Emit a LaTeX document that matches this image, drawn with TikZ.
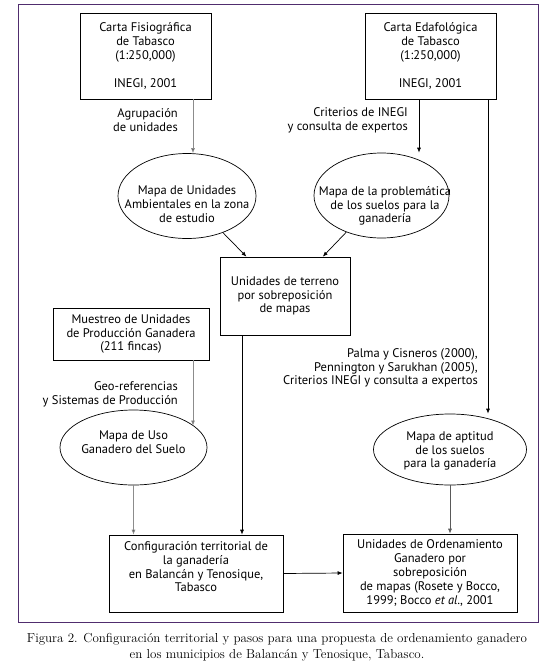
\documentclass[tikz,border=0pt]{standalone}
\usepackage{fontspec}
\newfontfamily\diagfont{PT Sans}
\usetikzlibrary{shapes.geometric,arrows.meta}

\definecolor{framepurple}{RGB}{80,45,110}

\tikzset{
  box/.style={draw, line width=0.7pt, align=center, inner sep=2pt},
  oval/.style={draw, ellipse, line width=0.7pt, inner sep=0pt},
  ovaltext/.style={align=center, inner sep=0pt},
  note/.style={align=right, anchor=east, inner sep=0pt},
  link/.style={line width=0.7pt, -{Latex[length=5pt,width=4pt]}},
  greylink/.style={link, draw=black!45, -{Latex[length=5pt,width=4pt,fill=black!70]}},
  darklink/.style={link, draw=black!65},
}

\begin{document}
\begin{tikzpicture}[x=1pt,y=-1pt,font=\diagfont\fontsize{12.5}{13.8}\selectfont]

    \useasboundingbox (0,0) rectangle (554,667);

    \draw[framepurple, line width=1pt] (18,4) rectangle (538,622);

    % sources
    \node[box, minimum width=131pt, minimum height=86pt] (fisio) at (145.5,56)
    {Carta Fisiográfica\\de Tabasco\\(1:250,000)\\[14pt]INEGI, 2001};

    \node[box, minimum width=131pt, minimum height=86pt] (edafo) at (430.5,56)
    {Carta Edafológica\\de Tabasco\\(1:250,000)\\[14pt]INEGI, 2001};

    \node[note] (agrup) at (178,120) {Agrupación\\de unidades};

    \node[note] (crit) at (408,120) {Criterios de INEGI\\y consulta de expertos};

    % maps
    \node[oval, minimum width=138pt, minimum height=85pt] (mua) at (187,196) {};
    \node[ovaltext] (mua-text) at (187,204)
    {Mapa de Unidades\\Ambientales en la zona\\de estudio};

    \node[oval, minimum width=135pt, minimum height=85pt] (mps) at (381.5,195.5) {};
    \node[ovaltext] (mps-text) at (385,206)
    {Mapa de la problemática\\de los suelos para la\\ganadería};

    \node[box, minimum width=130pt, minimum height=78pt] (uter) at (285,296)
    {Unidades de terreno\\por sobreposición\\de mapas};

    \node[box, minimum width=156pt, minimum height=52pt] (mupg) at (131,334)
    {Muestreo de Unidades\\de Producción Ganadera\\(211 fincas)};

    \node[note] (georef) at (178,394) {Geo-referencias\\y Sistemas de Producción};

    \node[note] (palma) at (478,368)
    {Palma y Cisneros (2000),\\Pennington y Sarukhan (2005),\\Criterios INEGI y consulta a expertos};

    \node[oval, minimum width=147pt, minimum height=75pt] (mus) at (133.5,447.5) {};
    \node[ovaltext] (mus-text) at (133.5,442)
    {Mapa de Uso\\Ganadero del Suelo};

    \node[oval, minimum width=153pt, minimum height=71pt] (mas) at (450,449.5) {};
    \node[ovaltext] (mas-text) at (450,451)
    {Mapa de aptitud\\de los suelos\\para la ganadería};

    % results
    \node[box, minimum width=174pt, minimum height=77pt] (conf) at (196,573.5)
    {Configuración territorial de\\la ganadería\\en Balancán y Tenosique,\\Tabasco\\\mbox{}};

    \node[box, minimum width=174pt, minimum height=78pt] (uog) at (430,573)
    {Unidades de Ordenamiento\\Ganadero por\\sobreposición\\de mapas (Rosete y Bocco,\\1999; Bocco \textit{et al.}, 2001};

    % connectors
    \draw[greylink] ([xshift=47.5pt]fisio.south) coordinate (fisio-out) -- (fisio-out |- mua.north);

    \draw[link] ([xshift=-11.5pt]edafo.south) coordinate (edafo-out) -- (edafo-out |- mps.north);

    \draw[link] ([xshift=57.5pt]edafo.south) coordinate (edafo-long) -- (edafo-long |- mas.north);

    \draw[link] (mua) -- (uter);

    \draw[link] (mps) -- (uter);

    \draw[greylink] ([xshift=62pt]mupg.south) coordinate (mupg-out) -- (mupg-out |- mus.20);

    \draw[greylink] (mus.south) -- (mus.south |- conf.north);

    \draw[link] ([xshift=-43pt]uter.south) coordinate (uter-out) -- (uter-out |- conf.north);

    \draw[darklink] (mas.south) -- (mas.south |- uog.north);

    \draw[link] (conf.east) -- (uog.west);

    % caption
    \node[font=\rmfamily\fontsize{13}{16}\selectfont, align=center] (caption) at (277,647)
    {Figura 2. Configuración territorial y pasos para una propuesta de ordenamiento ganadero\\
      en los municipios de Balancán y Tenosique, Tabasco.};

  \end{tikzpicture}
\end{document}
